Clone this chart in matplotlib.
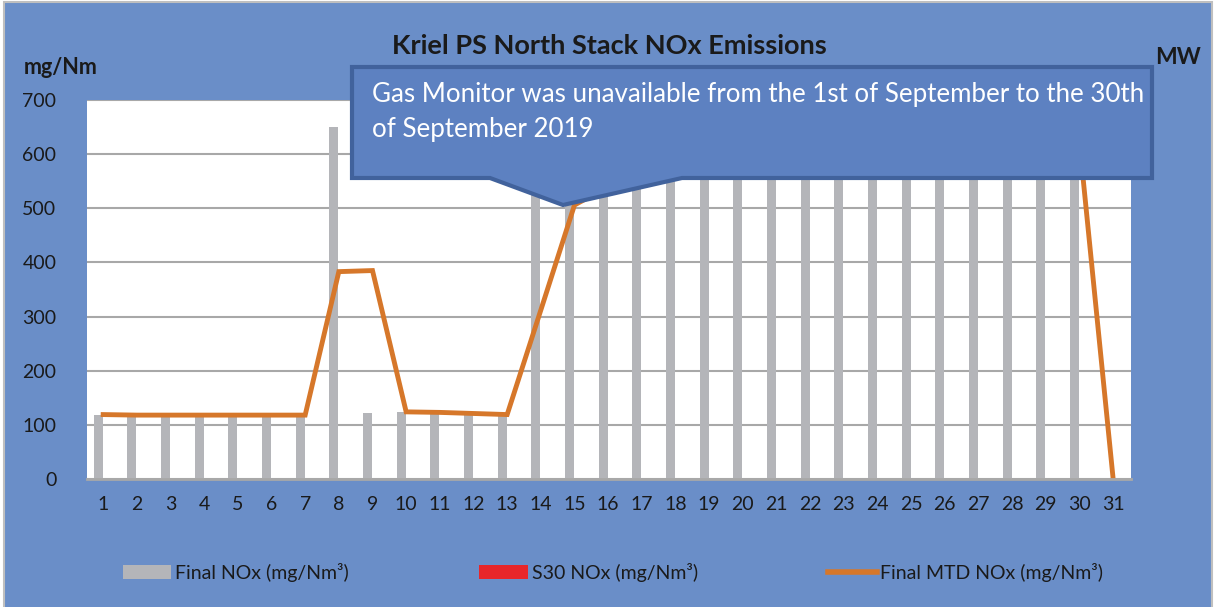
import numpy as np
import matplotlib
matplotlib.use('Agg')
import matplotlib.pyplot as plt
from matplotlib.patches import Rectangle, Polygon, Patch
from matplotlib.lines import Line2D

plt.rcParams['font.family'] = ['Lato', 'DejaVu Sans']

#data (days 14-30 partly hidden behind the callout, estimated)
days = np.arange(1, 32)
final_nox = [118, 118, 118, 118, 118, 118, 118, 650, 122, 124, 121, 120, 120,
             640, 650, 655, 660, 650, 665, 670, 660, 655, 665, 670, 660, 665,
             670, 660, 665, 670, 0]
s30_nox = [0] * 31
mtd_nox = [119, 118, 118, 118, 118, 118, 118, 383, 385, 124, 123, 121, 119,
           312, 506, 540, 560, 575, 585, 592, 598, 603, 607, 610, 613, 615,
           617, 619, 620, 622, 0]

title = 'Kriel PS North Stack NOx Emissions'
note = ('Gas Monitor was unavailable from the 1st of September to the 30th\n'
        'of September 2019')

#colours
bg_blue = '#6A8EC8'
box_blue = '#5D81C1'
box_edge = '#41629C'
bar_gray = '#B4B5B9'
red = '#E8262A'
orange = '#D6772A'
grid_gray = '#A8A8A8'

W, H = 1214, 607
fig = plt.figure(figsize=(W / 100, H / 100), dpi=100)
fig.patch.set_facecolor('white')

def fx(x):
    return x / W

def fy(y):
    return 1 - y / H

#blue chart background with thin gray border
fig.patches.append(Rectangle((fx(4), fy(610)), fx(1208), 610 / H - 8 / H + 0.01,
                             transform=fig.transFigure, facecolor=bg_blue,
                             edgecolor='#BFBFBF', linewidth=1.5, zorder=-10))

ax = fig.add_axes([fx(87), fy(479), fx(1131 - 87), (479 - 100) / H])
ax.set_facecolor('white')

w = 0.27
ax.bar(days - 0.15, final_nox, width=w, color=bar_gray, zorder=2)
ax.bar(days + 0.15, s30_nox, width=w, color=red, zorder=2)
ax.plot(days, mtd_nox, color=orange, linewidth=3.5, zorder=3,
        solid_joinstyle='miter')

ax.set_xlim(0.52, 31.53)
ax.set_ylim(0, 700)
ax.set_yticks(range(0, 701, 100))
ax.set_xticks(days)
ax.yaxis.grid(True, color=grid_gray, linewidth=1.5, zorder=0)
ax.set_axisbelow(True)
for s in ['top', 'left', 'right']:
    ax.spines[s].set_visible(False)
ax.spines['bottom'].set_color(grid_gray)
ax.spines['bottom'].set_linewidth(2)
ax.spines['bottom'].set_zorder(4)
ax.tick_params(axis='both', length=0, labelsize=14, colors='#1A1A1A')
ax.tick_params(axis='y', pad=22)
ax.tick_params(axis='x', pad=12)

#titles and axis units
fig.text(fx(609), fy(46), title, ha='center', va='center', fontsize=19.5,
         fontweight='bold', color='#1A1A1A')
fig.text(fx(24), fy(67), 'mg/Nm', ha='left', va='center', fontsize=15.5,
         fontweight='bold', color='#1A1A1A')
fig.text(fx(1178), fy(58), 'MW', ha='center', va='center', fontsize=16.5,
         fontweight='bold', color='#1A1A1A')

#callout box
pts = [(352, 67), (1152, 67), (1152, 178), (682, 178), (563, 205),
       (490, 178), (352, 178)]
fig.patches.append(Polygon([(fx(x), fy(y)) for x, y in pts], closed=True,
                           transform=fig.transFigure, facecolor=box_blue,
                           edgecolor=box_edge, linewidth=3, zorder=5))
fig.text(fx(372), fy(112), note, ha='left', va='center', fontsize=18.6,
         color='white', linespacing=1.5, zorder=6)

#legend
handles = [Patch(facecolor=bar_gray), Patch(facecolor=red),
           Line2D([0], [0], color=orange, linewidth=4)]
labels = ['Final NOx (mg/Nm³)', 'S30 NOx (mg/Nm³)', 'Final MTD NOx (mg/Nm³)']
fig.legend(handles, labels, loc='center', bbox_to_anchor=(fx(613), fy(572)),
           ncol=3, frameon=False, fontsize=14, handlelength=2.5,
           handletextpad=0.2, columnspacing=6.7, labelcolor='#1A1A1A')

fig.savefig('out.png', dpi=100)
